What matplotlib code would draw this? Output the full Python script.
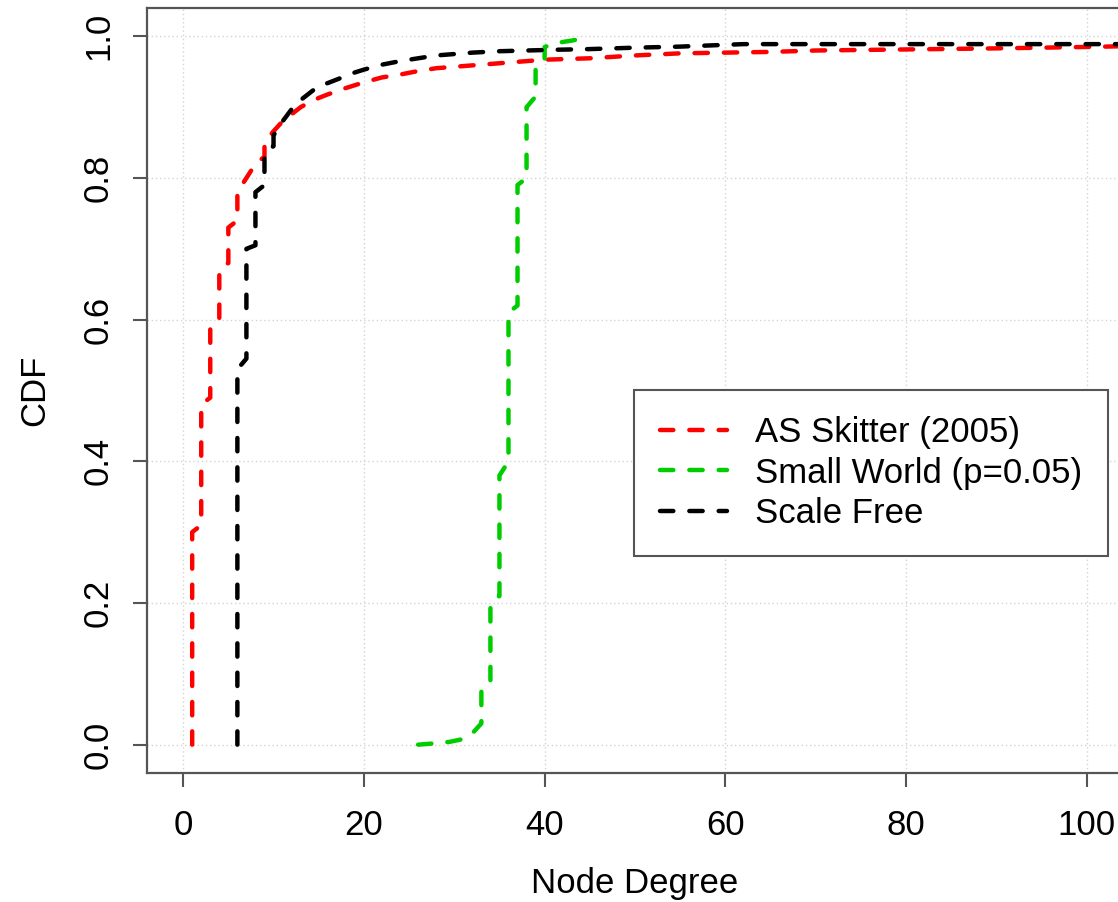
import matplotlib
matplotlib.use("Agg")
import matplotlib.pyplot as plt

plt.rcParams['font.family'] = ['Liberation Sans', 'DejaVu Sans']

# CDF of node degree (polyline points)
skitter_deg = [1, 1, 2, 2, 3, 3, 4, 4, 5, 5, 6, 6, 7, 8, 9, 9, 10, 11, 12, 13, 14,
               15, 16, 18, 20, 22, 24, 26, 28, 30, 32, 34, 36, 38, 40, 45, 50, 55,
               60, 65, 70, 80, 90, 100, 104]
skitter_cdf = [0.0, 0.30, 0.31, 0.48, 0.49, 0.59, 0.60, 0.67, 0.68, 0.73, 0.74, 0.78,
               0.80, 0.82, 0.83, 0.85, 0.866, 0.88, 0.89, 0.90, 0.907, 0.913, 0.918,
               0.927, 0.935, 0.942, 0.946, 0.951, 0.955, 0.957, 0.959, 0.961, 0.963,
               0.965, 0.967, 0.969, 0.973, 0.976, 0.977, 0.978, 0.980, 0.9815, 0.983,
               0.985, 0.986]

smallworld_deg = [26, 28, 29.5, 31, 32, 33, 33, 34, 34, 35, 35, 36, 36, 37, 37, 38, 38,
                  39, 39, 40, 40, 41.5, 43, 45]
smallworld_cdf = [0.0, 0.002, 0.004, 0.008, 0.016, 0.03, 0.075, 0.085, 0.20, 0.21, 0.38,
                  0.40, 0.61, 0.62, 0.79, 0.80, 0.90, 0.915, 0.955, 0.965, 0.985, 0.991,
                  0.994, 0.999]

scalefree_deg = [6, 6, 7, 7, 8, 8, 9, 9, 10, 10, 11, 12, 13, 14, 15, 16, 17, 19, 20, 22,
                 24, 26, 28, 30, 32, 35, 38, 41, 45, 50, 55, 60, 62, 104]
scalefree_cdf = [0.0, 0.53, 0.545, 0.70, 0.705, 0.78, 0.79, 0.835, 0.845, 0.86, 0.88,
                 0.897, 0.91, 0.92, 0.93, 0.934, 0.939, 0.949, 0.953, 0.96, 0.965, 0.969,
                 0.973, 0.975, 0.977, 0.979, 0.98, 0.981, 0.982, 0.984, 0.9855, 0.988,
                 0.989, 0.989]

x_ticks = [0, 20, 40, 60, 80, 100]
y_ticks = [0.0, 0.2, 0.4, 0.6, 0.8, 1.0]

W, H = 1118, 902
fig = plt.figure(figsize=(W / 100, H / 100), dpi=100)
# right edge of the plot box sits just past the image edge, like the reference crop
ax = fig.add_axes([147 / W, 1 - 773 / H, 976 / W, 765 / H])

style = dict(lw=3.2, dashes=(3.0, 3.6), dash_capstyle='round')
ax.plot(skitter_deg, skitter_cdf, color='#ff0000', label='AS Skitter (2005)', **style)
ax.plot(smallworld_deg, smallworld_cdf, color='#00cd00', label='Small World (p=0.05)', **style)
ax.plot(scalefree_deg, scalefree_cdf, color='black', label='Scale Free', **style)

ax.set_xlim(-4, 104)
ax.set_ylim(-0.04, 1.04)
ax.set_xticks(x_ticks)
ax.set_yticks(y_ticks)
ax.set_xticklabels([str(v) for v in x_ticks])
ax.set_yticklabels([f"{v:.1f}" for v in y_ticks])
ax.grid(True, color='#d3d3d3', linestyle=(0, (1, 2)), linewidth=1.0)
ax.set_axisbelow(True)

for sp in ax.spines.values():
    sp.set_color('#555555')
    sp.set_linewidth(1.6)
ax.tick_params(direction='out', length=10, width=1.5, color='#555555',
               labelsize=25, labelcolor='black')
ax.tick_params(axis='x', pad=16)
ax.tick_params(axis='y', pad=13)
plt.setp(ax.get_yticklabels(), rotation=90, va='center')

ax.set_xlabel('Node Degree', fontsize=25, va='center')
ax.xaxis.set_label_coords(0.5, -0.145)
ax.set_ylabel('CDF', fontsize=25, ha='center', va='center')
ax.yaxis.set_label_coords(-0.1148, 0.5)

leg = ax.legend(loc='upper left', bbox_to_anchor=(0.499, 0.5007), borderaxespad=0,
                fontsize=25, frameon=True, fancybox=False, framealpha=1,
                edgecolor='#555555', handlelength=1.93, handletextpad=0.8,
                borderpad=0.75, labelspacing=0.22)
leg.get_frame().set_linewidth(1.5)

fig.savefig('out.png', dpi=100)
